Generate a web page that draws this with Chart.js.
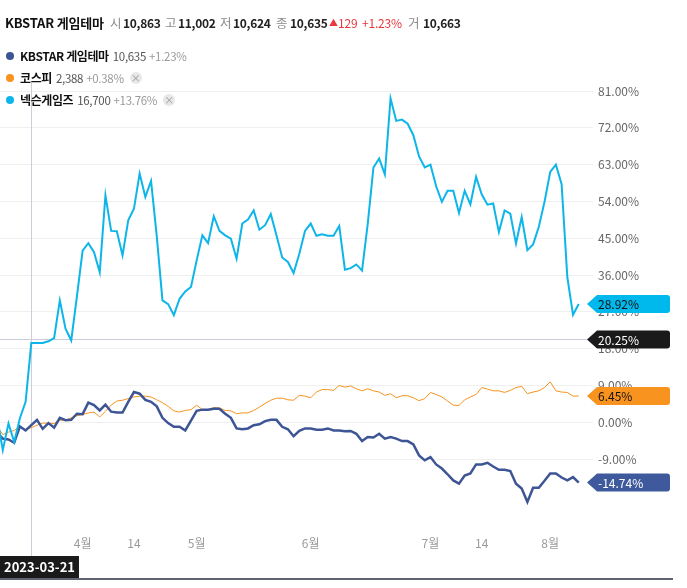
<!DOCTYPE html>
<html><head><meta charset="utf-8">
<script src="https://cdn.jsdelivr.net/npm/chart.js@4"></script>
<style>
body{margin:0;background:#fff;}
#wrap{position:relative;width:687px;height:588px;overflow:hidden;font-family:'Noto Sans CJK KR','Noto Sans',sans-serif;}
canvas{position:absolute;left:0;top:0;}
.t{position:absolute;white-space:nowrap;height:18px;line-height:18px;}
.hb{font-size:13px;font-weight:700;color:#111;letter-spacing:-0.2px;}
.hl{font-size:12.5px;color:#8a8a8a;}
.hv{font-size:12px;font-weight:700;color:#222;letter-spacing:-0.3px;}
.hr{font-size:12px;color:#e8373d;letter-spacing:-0.2px;}
.tri{font-size:9px;color:#e8373d;}
.row{position:absolute;left:6px;height:18px;line-height:18px;white-space:nowrap;display:flex;align-items:center;}
.row .dot{width:8px;height:8px;border-radius:50%;margin-right:6px;}
.row .lb{font-size:12px;font-weight:700;color:#111;letter-spacing:-0.4px;margin-right:4px;}
.row .ln{font-size:11.5px;color:#555;letter-spacing:-0.3px;margin-right:3px;}
.row .lp{font-size:11.5px;color:#9a9a9a;letter-spacing:-0.3px;}
.row .x{width:12px;height:12px;border-radius:50%;background:#e8e8e8;color:#9a9a9a;font-size:10px;line-height:12px;text-align:center;margin-left:6px;}
</style></head>
<body>
<div id="wrap">
<canvas id="c" width="687" height="588"></canvas>
<span class="t hb" style="left:5px;top:14px">KBSTAR 게임테마</span>
<span class="t hl" style="left:110px;top:14px">시</span><span class="t hv" style="left:123px;top:14px">10,863</span>
<span class="t hl" style="left:165px;top:14px">고</span><span class="t hv" style="left:178px;top:14px">11,002</span>
<span class="t hl" style="left:220px;top:14px">저</span><span class="t hv" style="left:233px;top:14px">10,624</span>
<span class="t hl" style="left:276px;top:14px">종</span><span class="t hv" style="left:290px;top:14px">10,635</span>
<span class="t tri" style="left:329px;top:14px">▲</span><span class="t hr" style="left:338px;top:14px">129</span><span class="t hr" style="left:362px;top:14px">+1.23%</span>
<span class="t hl" style="left:408px;top:14px">거</span><span class="t hv" style="left:423px;top:14px">10,663</span>

<div class="row" style="top:47px"><span class="dot" style="background:#3e5595"></span><span class="lb">KBSTAR 게임테마</span><span class="ln">10,635</span><span class="lp">+1.23%</span></div>
<div class="row" style="top:69px"><span class="dot" style="background:#f7931e"></span><span class="lb">코스피</span><span class="ln">2,388</span><span class="lp">+0.38%</span><span class="x">×</span></div>
<div class="row" style="top:91px"><span class="dot" style="background:#0db5e8"></span><span class="lb">넥슨게임즈</span><span class="ln">16,700</span><span class="lp">+13.76%</span><span class="x">×</span></div>
</div>
<script>
const dates = [
'2023-03-13','2023-03-14','2023-03-15','2023-03-16','2023-03-17','2023-03-20','2023-03-21','2023-03-22','2023-03-23','2023-03-24','2023-03-27','2023-03-28','2023-03-29','2023-03-30','2023-03-31',
'2023-04-03','2023-04-04','2023-04-05','2023-04-06','2023-04-07','2023-04-10','2023-04-11','2023-04-12','2023-04-13','2023-04-14','2023-04-17','2023-04-18','2023-04-19','2023-04-20','2023-04-21','2023-04-24','2023-04-25','2023-04-26','2023-04-27','2023-04-28',
'2023-05-02','2023-05-03','2023-05-04','2023-05-08','2023-05-09','2023-05-10','2023-05-11','2023-05-12','2023-05-15','2023-05-16','2023-05-17','2023-05-18','2023-05-19','2023-05-22','2023-05-23','2023-05-24','2023-05-25','2023-05-26','2023-05-30','2023-05-31',
'2023-06-01','2023-06-02','2023-06-05','2023-06-07','2023-06-08','2023-06-09','2023-06-12','2023-06-13','2023-06-14','2023-06-15','2023-06-16','2023-06-19','2023-06-20','2023-06-21','2023-06-22','2023-06-23','2023-06-26','2023-06-27','2023-06-28','2023-06-29','2023-06-30',
'2023-07-03','2023-07-04','2023-07-05','2023-07-06','2023-07-07','2023-07-10','2023-07-11','2023-07-12','2023-07-13','2023-07-14','2023-07-17','2023-07-18','2023-07-19','2023-07-20','2023-07-21','2023-07-24','2023-07-25','2023-07-26','2023-07-27','2023-07-28','2023-07-31',
'2023-08-01','2023-08-02','2023-08-03','2023-08-04','2023-08-07','2023-08-08'];

// % change series (first value is 2023-03-13)
const kbstar = [-2.5,
 -4.0,-4.2,-5.0,-1.0,-2.0,-0.7,0.6,-1.6,-0.2,-1.3,
 1.1,0.5,0.6,2.1,2.0,4.8,4.2,2.9,4.3,2.6,
 2.4,2.4,5.0,7.4,7.0,5.5,5.0,3.9,1.1,-0.2,
 -1.1,-1.1,-2.0,0.4,2.8,3.1,3.1,3.3,3.3,2.1,
 1.1,-1.5,-1.7,-1.5,-0.7,-0.5,0.3,0.6,0.6,-1.1,
 -1.7,-3.4,-2.1,-1.5,-1.5,-1.8,-1.8,-1.5,-2.0,-2.0,
 -2.2,-2.1,-2.8,-4.6,-3.6,-3.7,-2.8,-4.0,-3.6,-4.0,
 -4.6,-4.6,-5.4,-8.1,-9.3,-8.5,-10.3,-11.3,-12.7,-14.2,
 -15.0,-13.0,-12.5,-10.3,-10.3,-9.9,-10.8,-11.6,-11.6,-11.9,
 -15.0,-16.2,-19.5,-16.0,-16.0,-14.3,-12.5,-12.5,-13.5,-14.2,
 -13.4,-14.74];
const kospi = [-1.0,
 -3.0,-2.4,-2.0,-1.0,-1.8,-1.3,-0.7,-0.2,-0.2,-0.3,
 0.5,0.5,1.1,1.6,1.9,2.3,2.5,1.3,2.7,4.2,
 5.2,5.4,5.8,6.2,6.4,6.4,6.2,5.5,4.8,3.9,
 2.8,2.5,2.9,3.1,4.2,3.1,3.1,3.6,3.5,2.9,
 2.8,2.1,2.3,2.3,2.9,3.7,4.6,5.4,5.9,5.9,
 5.5,5.4,6.6,6.4,6.0,7.4,8.0,8.0,7.8,9.0,
 8.6,8.9,8.2,7.7,8.2,7.7,7.4,6.6,7.0,6.0,
 6.5,6.5,6.0,5.3,5.8,7.3,6.8,6.2,5.2,4.2,
 4.1,5.5,6.2,6.8,8.5,8.1,7.7,7.7,7.3,7.8,
 8.5,8.8,7.0,7.4,7.7,8.5,9.9,7.7,7.4,7.3,
 6.4,6.45];
const nexon = [1.2,
 -6.8,-0.3,-4.8,1.0,5.0,19.4,19.4,19.4,19.8,20.6,
 29.8,22.9,20.0,30.8,42.0,43.8,41.6,36.7,55.5,46.8,
 46.7,40.8,49.4,52.2,60.8,55.1,59.0,45.5,29.8,28.9,
 26.2,30.2,32.0,33.1,39.6,45.7,43.8,50.4,46.8,45.7,
 44.9,40.0,48.6,49.6,51.8,47.1,48.2,50.9,45.7,40.3,
 39.2,36.5,41.2,46.8,48.6,45.6,46.0,45.6,45.6,48.0,
 37.3,37.7,38.6,37.1,48.5,62.3,64.5,60.6,79.2,73.7,
 74.0,73.0,70.2,65.0,62.3,63.0,57.7,53.9,56.6,56.6,
 51.2,56.6,53.3,60.0,55.7,53.2,53.5,46.5,51.8,51.0,
 43.7,50.2,42.1,43.5,47.8,53.9,61.2,63.0,58.2,35.5,
 26.3,28.92];

const xTickDates = ['2023-04-03','2023-04-14','2023-05-02','2023-06-01','2023-07-03','2023-07-14','2023-08-01'];
const xTickLabels = ['4월','14','5월','6월','7월','14','8월'];
const yTicks = [-9,0,9,18,27,36,45,54,63,72,81];
const cursorDate = '2023-03-21';
const cursorValue = 20.25;

const COL = {kb:'#3e5595', ks:'#f7931e', nx:'#0db5e8'};
const FONT = "'Noto Sans CJK KR','Noto Sans',sans-serif";
const pts = arr => arr.map((v,i)=>({x:i,y:v}));

const overlay = {
  id:'overlay',
  beforeDatasetsDraw(chart){
    const {ctx, chartArea:a, scales:{x,y}} = chart;
    const cx = Math.round(x.getPixelForValue(dates.indexOf(cursorDate)))+0.5;
    const cy = Math.round(y.getPixelForValue(cursorValue))+0.5;
    ctx.save();
    ctx.strokeStyle='#c9ced9'; ctx.lineWidth=1;
    ctx.beginPath(); ctx.moveTo(cx,a.top); ctx.lineTo(cx,556); ctx.stroke();
    ctx.beginPath(); ctx.moveTo(0,cy); ctx.lineTo(a.right+4,cy); ctx.stroke();
    ctx.restore();
  },
  afterDraw(chart){
    const {ctx, chartArea:a, scales:{x,y}} = chart;
    ctx.save();
    ctx.fillStyle='#5f646e'; ctx.fillRect(0,578,673,2);
    const cx = x.getPixelForValue(dates.indexOf(cursorDate));
    ctx.font = "bold 13px "+FONT;
    const tw = ctx.measureText(cursorDate).width;
    const bw = tw+8;
    let bx = Math.max(0, cx-bw/2);
    ctx.fillStyle='#1a1a1a'; ctx.fillRect(bx,556,bw,22);
    ctx.fillStyle='#fff'; ctx.textBaseline='middle'; ctx.textAlign='left';
    ctx.fillText(cursorDate,bx+4,567.5);
    const badge=(val,bg,fg)=>{
      const cy = y.getPixelForValue(val);
      const x0 = a.right+4, x1=x0+10, x2=670, h=9, r=3;
      ctx.beginPath();
      ctx.moveTo(x0,cy);
      ctx.lineTo(x1,cy-h);
      ctx.lineTo(x2-r,cy-h);
      ctx.quadraticCurveTo(x2,cy-h,x2,cy-h+r);
      ctx.lineTo(x2,cy+h-r);
      ctx.quadraticCurveTo(x2,cy+h,x2-r,cy+h);
      ctx.lineTo(x1,cy+h);
      ctx.closePath();
      ctx.fillStyle=bg; ctx.fill();
      ctx.fillStyle=fg; ctx.font="12px "+FONT; ctx.textBaseline='middle'; ctx.textAlign='left';
      ctx.fillText(val.toFixed(2)+'%', x1+1, cy+0.5);
    };
    badge(nexon[nexon.length-1],'#00b9ec','#111');
    badge(cursorValue,'#1a1a1a','#fff');
    badge(kospi[kospi.length-1],'#f7931e','#111');
    badge(kbstar[kbstar.length-1],'#3f5a9c','#fff');
    ctx.restore();
  }
};

new Chart(document.getElementById('c'),{
  type:'line',
  data:{datasets:[
    {label:'넥슨게임즈',data:pts(nexon),borderColor:COL.nx,borderWidth:2,order:1},
    {label:'KBSTAR 게임테마',data:pts(kbstar),borderColor:COL.kb,borderWidth:2.5,order:2},
    {label:'코스피',data:pts(kospi),borderColor:COL.ks,borderWidth:1,order:3}
  ]},
  options:{
    responsive:false, animation:false,
    layout:{padding:{top:83,left:0,right:0,bottom:0}},
    elements:{point:{radius:0,hoverRadius:0},line:{tension:0}},
    plugins:{legend:{display:false},tooltip:{enabled:false}},
    events:[],
    scales:{
      x:{type:'linear',min:0.51,max:102.75,
        grid:{display:false,drawTicks:false},border:{display:false},
        afterBuildTicks:s=>{s.ticks=xTickDates.map(d=>({value:dates.indexOf(d)}));},
        afterFit:s=>{s.height=58;},
        ticks:{autoSkip:false,maxRotation:0,padding:6,color:'#9a9a9a',font:{size:12,family:FONT},
          callback:(v,i)=>xTickLabels[i]}},
      y:{type:'linear',position:'right',min:-26.33,max:82.96,
        grid:{color:'#efefef',lineWidth:1,drawTicks:true,tickLength:10},border:{display:false},
        afterBuildTicks:s=>{s.ticks=yTicks.map(v=>({value:v}));},
        afterFit:s=>{s.width=104;},
        ticks:{padding:5,color:'#666',font:{size:12,family:FONT},callback:v=>v.toFixed(2)+'%'}}
    }
  },
  plugins:[overlay]
});
</script>
</body></html>
